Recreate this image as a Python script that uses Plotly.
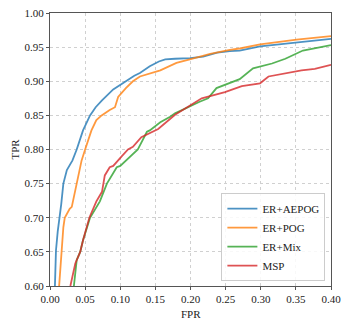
import plotly.graph_objects as go

# ER+AEPOG
aepog_fpr = [0.007, 0.0085, 0.011, 0.014, 0.016, 0.019, 0.024, 0.032, 0.038, 0.047, 0.057, 0.065, 0.074, 0.09, 0.107, 0.12, 0.128, 0.142, 0.155, 0.164, 0.178, 0.2, 0.218, 0.238, 0.256, 0.27, 0.299, 0.351, 0.40]
aepog_tpr = [0.60, 0.652, 0.68, 0.70, 0.72, 0.75, 0.77, 0.784, 0.80, 0.828, 0.85, 0.862, 0.872, 0.888, 0.90, 0.908, 0.912, 0.922, 0.929, 0.932, 0.933, 0.934, 0.936, 0.942, 0.944, 0.945, 0.951, 0.957, 0.962]

# ER+POG
pog_fpr = [0.013, 0.016, 0.019, 0.021, 0.028, 0.031, 0.036, 0.04, 0.045, 0.05, 0.059, 0.066, 0.0735, 0.085, 0.0925, 0.097, 0.108, 0.118, 0.128, 0.157, 0.18, 0.199, 0.228, 0.256, 0.27, 0.299, 0.351, 0.40]
pog_tpr = [0.60, 0.65, 0.686, 0.70, 0.713, 0.716, 0.74, 0.76, 0.784, 0.80, 0.828, 0.843, 0.85, 0.858, 0.862, 0.877, 0.89, 0.90, 0.907, 0.916, 0.927, 0.932, 0.94, 0.946, 0.948, 0.954, 0.961, 0.966]

# ER+Mix
mix_fpr = [0.034, 0.038, 0.043, 0.047, 0.057, 0.071, 0.081, 0.095, 0.1, 0.114, 0.125, 0.128, 0.138, 0.142, 0.157, 0.171, 0.178, 0.213, 0.225, 0.237, 0.263, 0.27, 0.289, 0.316, 0.335, 0.349, 0.36, 0.40]
mix_tpr = [0.60, 0.638, 0.65, 0.667, 0.70, 0.724, 0.75, 0.774, 0.776, 0.79, 0.80, 0.806, 0.826, 0.828, 0.84, 0.848, 0.853, 0.87, 0.875, 0.89, 0.901, 0.903, 0.919, 0.926, 0.933, 0.94, 0.945, 0.953]

# MSP
msp_fpr = [0.029, 0.036, 0.043, 0.047, 0.056, 0.066, 0.074, 0.076, 0.078, 0.085, 0.09, 0.102, 0.111, 0.118, 0.13, 0.154, 0.178, 0.216, 0.249, 0.273, 0.299, 0.311, 0.339, 0.358, 0.377, 0.40]
msp_tpr = [0.60, 0.633, 0.65, 0.667, 0.70, 0.724, 0.738, 0.75, 0.762, 0.774, 0.776, 0.79, 0.80, 0.804, 0.818, 0.83, 0.851, 0.875, 0.884, 0.893, 0.897, 0.907, 0.912, 0.916, 0.918, 0.924]

x_ticks = [0.00, 0.05, 0.10, 0.15, 0.20, 0.25, 0.30, 0.35, 0.40]
y_ticks = [0.60, 0.65, 0.70, 0.75, 0.80, 0.85, 0.90, 0.95, 1.00]

series = [
    ("ER+AEPOG", aepog_fpr, aepog_tpr, "rgba(31,119,180,0.8)"),
    ("ER+POG", pog_fpr, pog_tpr, "rgba(255,127,14,0.8)"),
    ("ER+Mix", mix_fpr, mix_tpr, "rgba(44,160,44,0.8)"),
    ("MSP", msp_fpr, msp_tpr, "rgba(214,39,40,0.8)"),
]

FONT = "Liberation Serif, DejaVu Serif, serif"

fig = go.Figure()
for name, xs, ys, col in series:
    fig.add_trace(go.Scatter(x=xs, y=ys, mode="lines", name=name,
                             line=dict(color=col, width=1.8)))

axis_common = dict(
    showline=True, mirror=True, linecolor="#555555", linewidth=1.3,
    showgrid=True, gridcolor="#d0d0d0", griddash="dot", gridwidth=0.8,
    ticks="outside", ticklen=3, tickcolor="#555555", tickwidth=1,
    zeroline=False, automargin=False, ticklabeloverflow="allow",
    tickfont=dict(family=FONT, size=11, color="#222222"),
)

# the page body adds an 8px offset, so the figure is sized to fit the window
fig.update_layout(
    width=341, height=318,
    margin=dict(l=42, r=18, t=5, b=40),
    paper_bgcolor="white", plot_bgcolor="white",
    font=dict(family=FONT, size=11, color="#222222"),
    xaxis=dict(range=[0, 0.40], tickvals=x_ticks,
               ticktext=[f"{v:.2f}" for v in x_ticks],
               **axis_common),
    yaxis=dict(range=[0.60, 1.00], tickvals=y_ticks,
               ticktext=[f"{v:.2f}" for v in y_ticks],
               **axis_common),
    legend=dict(x=0.98, y=0.018, xanchor="right", yanchor="bottom",
                bgcolor="rgba(255,255,255,0.85)", bordercolor="#cccccc", borderwidth=1,
                font=dict(family=FONT, size=11, color="#222222"),
                tracegroupgap=0, itemwidth=30),
    showlegend=True,
    annotations=[
        dict(text="FPR", xref="paper", yref="paper", x=0.5, y=0, yshift=-20,
             xanchor="center", yanchor="top", showarrow=False,
             font=dict(family=FONT, size=11, color="#222222")),
        dict(text="TPR", xref="paper", yref="paper", x=0, y=0.5, xshift=-28,
             xanchor="right", yanchor="middle", textangle=-90, showarrow=False,
             font=dict(family=FONT, size=11, color="#222222")),
    ],
)

fig.write_html("out.html")
